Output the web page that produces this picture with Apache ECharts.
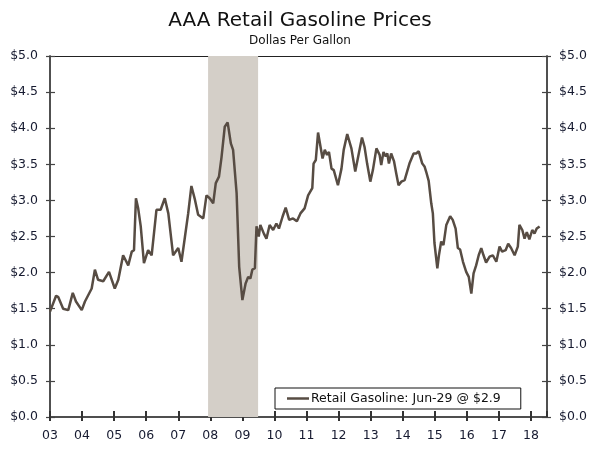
<!DOCTYPE html>
<html>
<head>
<meta charset="utf-8">
<script src="https://cdn.jsdelivr.net/npm/echarts@6/dist/echarts.min.js"></script>
<style>html,body{margin:0;padding:0;background:#fff}#c{width:600px;height:450px}</style>
</head>
<body>
<div id="c"></div>
<script>
var years = [2003.00,2003.19,2003.26,2003.41,2003.57,2003.71,2003.81,2003.99,2004.09,2004.30,2004.40,2004.50,2004.66,2004.84,2005.02,2005.13,2005.28,2005.44,2005.55,2005.62,2005.68,2005.75,2005.83,2005.93,2006.06,2006.17,2006.32,2006.45,2006.58,2006.69,2006.84,2007.00,2007.10,2007.21,2007.31,2007.41,2007.52,2007.62,2007.78,2007.88,2007.98,2008.09,2008.17,2008.27,2008.35,2008.45,2008.54,2008.64,2008.71,2008.74,2008.82,2008.90,2009.00,2009.10,2009.18,2009.25,2009.31,2009.39,2009.44,2009.51,2009.56,2009.67,2009.75,2009.85,2009.96,2010.06,2010.14,2010.25,2010.35,2010.46,2010.58,2010.70,2010.81,2010.94,2011.05,2011.18,2011.22,2011.29,2011.36,2011.50,2011.57,2011.64,2011.70,2011.78,2011.85,2011.98,2012.09,2012.16,2012.27,2012.40,2012.52,2012.64,2012.73,2012.81,2012.89,2012.99,2013.07,2013.18,2013.28,2013.33,2013.40,2013.47,2013.52,2013.57,2013.64,2013.73,2013.80,2013.87,2013.96,2014.06,2014.11,2014.21,2014.34,2014.42,2014.50,2014.61,2014.68,2014.73,2014.81,2014.89,2014.94,2014.99,2015.08,2015.13,2015.20,2015.27,2015.36,2015.48,2015.56,2015.65,2015.72,2015.79,2015.88,2015.98,2016.06,2016.14,2016.21,2016.29,2016.37,2016.45,2016.52,2016.60,2016.71,2016.81,2016.92,2017.02,2017.10,2017.21,2017.29,2017.38,2017.49,2017.59,2017.64,2017.73,2017.80,2017.87,2017.95,2018.04,2018.11,2018.18,2018.27];
var prices = [1.46,1.68,1.66,1.50,1.48,1.72,1.60,1.48,1.60,1.78,2.04,1.90,1.88,2.01,1.78,1.90,2.24,2.10,2.29,2.31,3.03,2.89,2.64,2.13,2.31,2.24,2.87,2.87,3.03,2.82,2.24,2.34,2.15,2.50,2.82,3.20,3.01,2.80,2.75,3.07,3.03,2.96,3.24,3.33,3.60,4.02,4.08,3.79,3.70,3.72,3.10,2.08,1.62,1.85,1.94,1.92,2.04,2.06,2.64,2.50,2.66,2.54,2.47,2.66,2.59,2.68,2.61,2.77,2.90,2.73,2.75,2.71,2.82,2.89,3.07,3.17,3.51,3.56,3.94,3.58,3.70,3.63,3.67,3.44,3.42,3.21,3.44,3.70,3.92,3.72,3.40,3.67,3.87,3.74,3.51,3.26,3.42,3.72,3.63,3.49,3.67,3.61,3.65,3.51,3.65,3.54,3.37,3.21,3.26,3.28,3.26,3.51,3.65,3.65,3.68,3.51,3.47,3.40,3.27,2.96,2.82,2.41,2.06,2.24,2.43,2.38,2.66,2.78,2.73,2.61,2.34,2.32,2.15,2.01,1.94,1.71,1.99,2.10,2.24,2.34,2.24,2.14,2.22,2.24,2.15,2.36,2.29,2.31,2.40,2.34,2.24,2.36,2.66,2.59,2.47,2.56,2.46,2.59,2.54,2.61,2.64];
var recession = [2007.93, 2009.49];
var seriesName = 'Retail Gasoline: Jun-29 @ $2.9';
var titleText = 'AAA Retail Gasoline Prices';
var subtitleText = 'Dollas Per Gallon';

var FONT = 'DejaVu Sans';
var data = years.map(function (y, i) { return [y, prices[i]]; });
var axisCol = '#444444';
var labelCol = '#161a30';
function yFmt(v) { return '$' + v.toFixed(1); }
function xFmt(v) { var n = Math.round(v) % 100; return (n < 10 ? '0' : '') + n; }

function yAx(pos, inside, labels) {
  return {
    type: 'value', position: pos, min: 0, max: 5, interval: 0.5,
    axisLine: { show: true, lineStyle: { color: axisCol, width: 1.5 } },
    axisTick: { show: true, inside: inside, length: inside ? 5 : 4, lineStyle: { color: axisCol, width: 1.2 } },
    axisLabel: { show: labels, formatter: yFmt, color: labelCol, fontFamily: FONT, fontSize: 12.5, margin: 12 },
    splitLine: { show: false }
  };
}
function xAx(pos, inside, labels, ticks) {
  return {
    type: 'value', position: pos, min: 2003, max: 2018.5, interval: 1,
    axisLine: { show: true, onZero: false, lineStyle: { color: pos === 'top' ? '#222' : axisCol, width: pos === 'top' ? 1 : 1.5 } },
    axisTick: { show: ticks, inside: inside, length: inside ? 6 : 4, lineStyle: { color: '#333', width: 2 } },
    axisLabel: { show: labels, formatter: xFmt, showMaxLabel: false, color: labelCol, fontFamily: FONT, fontSize: 12.5, margin: 12 },
    splitLine: { show: false }
  };
}

var chart = echarts.init(document.getElementById('c'), null, { renderer: 'canvas' });
chart.setOption({
  animation: false,
  backgroundColor: '#fff',
  title: {
    text: titleText, subtext: subtitleText, left: 'center', top: 6, itemGap: 4,
    textStyle: { fontFamily: FONT, fontSize: 20, fontWeight: 'normal', color: '#111' },
    subtextStyle: { fontFamily: FONT, fontSize: 12, color: '#111' }
  },
  grid: { left: 50, right: 53, top: 56, bottom: 33 },
  legend: {
    left: 275, top: 388, orient: 'horizontal',
    borderColor: '#111', borderWidth: 1, borderRadius: 0,
    padding: [4, 20, 4, 12], itemWidth: 22, itemHeight: 12, itemGap: 0,
    textStyle: { fontFamily: FONT, fontSize: 12.5, color: '#111', padding: [0, 0, 0, -3] },
    data: [{ name: seriesName, icon: 'path://M0,5 L22,5 L22,7.5 L0,7.5 Z', itemStyle: { color: '#574c43' } }]
  },
  xAxis: [xAx('bottom', false, true, true), xAx('bottom', true, false, true), xAx('top', false, false, false)],
  yAxis: [yAx('left', false, true), yAx('right', false, true), yAx('left', true, false), yAx('right', true, false)],
  series: [{
    name: seriesName, type: 'line', data: data, showSymbol: false, symbol: 'none',
    lineStyle: { color: '#574c43', width: 2.5 }, itemStyle: { color: '#574c43' },
    markArea: {
      silent: true,
      itemStyle: { color: '#d4cfc8' },
      data: [[{ xAxis: recession[0] }, { xAxis: recession[1] }]]
    },
    z: 3
  }]
});
</script>
</body>
</html>
